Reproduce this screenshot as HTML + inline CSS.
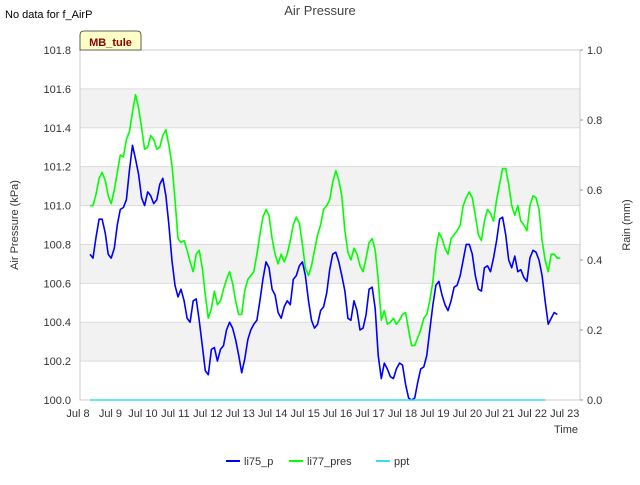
<!DOCTYPE html>
<html><head><meta charset="utf-8"><style>
body{margin:0;background:#fff;}
svg{font-family:"Liberation Sans","DejaVu Sans",sans-serif;}
</style></head><body>
<svg id="chart" width="640" height="480" viewBox="0 0 640 480" xmlns="http://www.w3.org/2000/svg">
<text x="5" y="18" font-size="11" fill="#000">No data for f_AirP</text>
<text x="320" y="15" font-size="13" fill="#444" text-anchor="middle">Air Pressure</text>
<g id="bands"></g>
<g id="grid"></g>
<rect x="80" y="50" width="500" height="350" fill="none" stroke="#ccc"/>
<g id="series"></g>
<g id="axes" font-size="11" fill="#333"></g>
<text transform="translate(18,225) rotate(-90)" font-size="11" fill="#333" text-anchor="middle">Air Pressure (kPa)</text>
<text transform="translate(630,225) rotate(-90)" font-size="11" fill="#333" text-anchor="middle">Rain (mm)</text>
<text x="566" y="433" font-size="11" fill="#333" text-anchor="middle">Time</text>
<g>
<path d="M80,50 L80,35 Q80,31 84,31 L137,31 Q141,31 141,35 L141,50 Z" fill="#ffffc8" stroke="#333" stroke-width="0.8"/>
<text x="110.5" y="46" font-size="11" font-weight="bold" fill="#8b0000" text-anchor="middle">MB_tule</text>
</g>
<g id="legend" font-size="11" fill="#333"></g>
</svg>
<script>
const NS="http://www.w3.org/2000/svg";
const yTicks=[100.0,100.2,100.4,100.6,100.8,101.0,101.2,101.4,101.6,101.8];
const rTicks=[0.0,0.2,0.4,0.6,0.8,1.0];
const xTickLabels=["Jul 8","Jul 9","Jul 10","Jul 11","Jul 12","Jul 13","Jul 14","Jul 15","Jul 16","Jul 17","Jul 18","Jul 19","Jul 20","Jul 21","Jul 22","Jul 23"];
const xTickDays=[8,9,10,11,12,13,14,15,16,17,18,19,20,21,22,23];
const seriesStart=8.37, seriesStep=0.0935;
const li75_p=[100.75,100.73,100.84,100.93,100.93,100.86,100.75,100.73,100.78,100.90,100.98,100.99,101.03,101.18,101.31,101.24,101.16,101.04,101.00,101.07,101.05,101.01,101.03,101.11,101.14,101.05,100.90,100.72,100.59,100.53,100.57,100.51,100.42,100.40,100.51,100.52,100.41,100.28,100.15,100.13,100.26,100.27,100.20,100.26,100.28,100.36,100.40,100.37,100.31,100.23,100.14,100.21,100.31,100.36,100.39,100.41,100.51,100.62,100.71,100.68,100.57,100.54,100.45,100.42,100.48,100.51,100.49,100.62,100.64,100.69,100.71,100.64,100.51,100.41,100.37,100.39,100.46,100.48,100.55,100.67,100.75,100.76,100.71,100.64,100.56,100.42,100.41,100.51,100.46,100.36,100.37,100.44,100.57,100.58,100.47,100.23,100.11,100.19,100.16,100.12,100.11,100.16,100.19,100.18,100.08,100.01,100.00,100.01,100.09,100.16,100.17,100.23,100.36,100.49,100.59,100.61,100.54,100.49,100.46,100.51,100.58,100.59,100.64,100.72,100.80,100.80,100.75,100.64,100.57,100.56,100.68,100.69,100.66,100.73,100.82,100.93,100.94,100.85,100.72,100.68,100.74,100.66,100.67,100.63,100.61,100.73,100.77,100.76,100.72,100.64,100.51,100.39,100.42,100.45,100.44];
const li77_pres=[101.00,101.00,101.06,101.14,101.17,101.13,101.05,101.01,101.08,101.17,101.26,101.25,101.34,101.38,101.48,101.57,101.50,101.40,101.29,101.30,101.36,101.34,101.29,101.30,101.36,101.39,101.31,101.21,101.03,100.83,100.81,100.82,100.77,100.71,100.66,100.75,100.77,100.68,100.54,100.42,100.47,100.56,100.49,100.51,100.57,100.62,100.66,100.60,100.51,100.44,100.44,100.56,100.62,100.64,100.66,100.75,100.85,100.94,100.98,100.95,100.83,100.75,100.70,100.75,100.71,100.75,100.82,100.90,100.94,100.91,100.80,100.68,100.64,100.69,100.77,100.85,100.90,100.98,101.00,101.03,101.12,101.18,101.13,101.05,100.87,100.76,100.72,100.78,100.75,100.69,100.66,100.73,100.81,100.83,100.77,100.62,100.41,100.46,100.39,100.40,100.42,100.39,100.41,100.44,100.45,100.36,100.28,100.28,100.32,100.36,100.42,100.44,100.51,100.61,100.77,100.86,100.83,100.78,100.75,100.83,100.85,100.87,100.90,101.00,101.04,101.07,101.04,100.95,100.85,100.82,100.92,100.98,100.96,100.92,101.03,101.11,101.19,101.19,101.11,101.00,100.95,101.00,100.92,100.90,100.87,101.00,101.05,101.04,100.98,100.82,100.72,100.66,100.75,100.75,100.73,100.73];
const ppt=[0,0];
const pptDays=[8.37,22.4];
const bandRanges=[[101.4,101.6],[101.0,101.2],[100.6,100.8],[100.2,100.4]];

const yMin=100,yMax=101.8,pT=50,pB=400,pL=80,pR=580;
function yS(v){return pB-(v-yMin)/(yMax-yMin)*(pB-pT);}
function rS(v){return pB-v*(pB-pT);}
function xS(d){return 78+(d-8)*32.45;}
function mk(tag,attrs,parent){const e=document.createElementNS(NS,tag);for(const k in attrs)e.setAttribute(k,attrs[k]);parent.appendChild(e);return e;}
const bands=document.getElementById('bands'),grid=document.getElementById('grid'),axes=document.getElementById('axes'),ser=document.getElementById('series'),leg=document.getElementById('legend');
bandRanges.forEach(b=>{const r=mk('rect',{x:pL,y:yS(b[1]),width:pR-pL,height:yS(b[0])-yS(b[1]),fill:'#f2f2f2'},bands);

});
yTicks.forEach(v=>{const l=mk('line',{x1:pL,x2:pR,y1:yS(v),y2:yS(v),stroke:'#dcdcdc'},grid);


const t=mk('text',{x:71,y:yS(v)+4,'text-anchor':'end'},axes);t.textContent=v.toFixed(1);

});
rTicks.forEach(v=>{const t=mk('text',{x:587,y:rS(v)+4,'text-anchor':'start'},axes);t.textContent=v.toFixed(1);


const k=mk('line',{x1:pR,x2:pR+3,y1:rS(v),y2:rS(v),stroke:'#999'},axes);

});
xTickDays.forEach((d,i)=>{const t=mk('text',{x:xS(d),y:417,'text-anchor':'middle'},axes);t.textContent=xTickLabels[i];

});
function line(vals,color,name,w){const pts=vals.map((v,i)=>xS(seriesStart+i*seriesStep).toFixed(1)+','+yS(v).toFixed(1)).join(' ');
const p=mk('polyline',{points:pts,fill:'none',stroke:color,'stroke-width':w,'stroke-linejoin':'round'},ser);

}
line(li77_pres,'#00ff00','li77-pres-line',1.6);
line(li75_p,'#0000ff','li75-p-line',1.6);
const pp=mk('polyline',{points:pptDays.map((d,i)=>xS(d)+','+rS(ppt[i])).join(' '),fill:'none',stroke:'#33e0f0','stroke-width':1.4},ser);


const legItems=[['li75_p','#0000ff',226],['li77_pres','#00ff00',289],['ppt','#33e0f0',376]];
legItems.forEach(it=>{const g=mk('g',{},leg);


mk('line',{x1:it[2],x2:it[2]+14,y1:461,y2:461,stroke:it[1],'stroke-width':2},g);
const t=mk('text',{x:it[2]+18,y:465},g);t.textContent=it[0];});
</script>
</body></html>
